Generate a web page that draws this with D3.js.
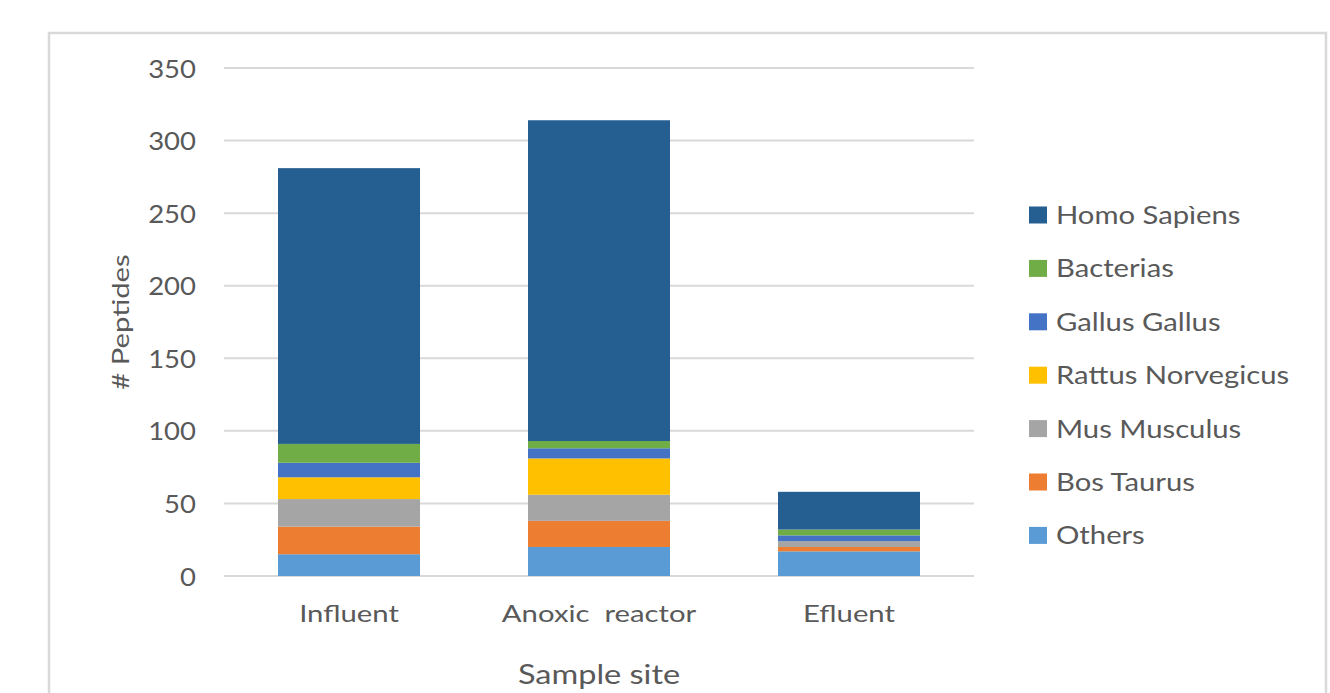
<!DOCTYPE html>
<html>
<head>
<meta charset="utf-8">
<script src="https://cdn.jsdelivr.net/npm/d3@7"></script>
<style>
  html, body { margin: 0; padding: 0; background: #fff; }
  svg { display: block; }
  text { font-family: Lato, "Open Sans", sans-serif; fill: #595959; }
</style>
</head>
<body>
<svg id="chart" width="1330" height="693"></svg>
<script>
// Sample sites along the x axis
const sites = ["Influent", "Anoxic  reactor", "Efluent"];

// Peptide counts per organism, one value per site (stacked bottom to top)
const others     = [15, 20, 17];
const bosTaurus  = [19, 18, 3];
const musMusculus = [19, 18, 4];
const rattusNorvegicus = [15, 25, 0];
const gallusGallus = [10, 7, 4];
const bacterias  = [13, 5, 4];
const homoSapiens = [190, 221, 26];

const seriesNames = ["Others", "Bos Taurus", "Mus Musculus", "Rattus Norvegicus", "Gallus Gallus", "Bacterias", "Homo Sapìens"];
const seriesColors = ["#5b9bd5", "#ed7d31", "#a5a5a5", "#ffc000", "#4472c4", "#70ad47", "#255e91"];
const yTicks = [0, 50, 100, 150, 200, 250, 300, 350];

const seriesValues = [others, bosTaurus, musMusculus, rattusNorvegicus, gallusGallus, bacterias, homoSapiens];

// Build table rows for d3.stack
const rows = sites.map((s, i) => {
  const r = { site: s };
  seriesNames.forEach((n, k) => { r[n] = seriesValues[k][i]; });
  return r;
});

const svg = d3.select("#chart");

// Outer chart frame
svg.append("rect")
  .attr("x", 49).attr("y", 33)
  .attr("width", 1277).attr("height", 700)
  .attr("fill", "none")
  .attr("stroke", "#d9d9d9")
  .attr("stroke-width", 2.5);

const plot = { left: 224, right: 974, top: 68, bottom: 576 };

const x = d3.scaleBand()
  .domain(sites)
  .range([plot.left, plot.right])
  .paddingInner(0.432)
  .paddingOuter(0.216);

const y = d3.scaleLinear()
  .domain([0, 350])
  .range([plot.bottom, plot.top]);

// Horizontal gridlines
svg.append("g")
  .selectAll("line")
  .data(yTicks)
  .join("line")
  .attr("x1", plot.left).attr("x2", plot.right)
  .attr("y1", d => y(d)).attr("y2", d => y(d))
  .attr("stroke", "#d9d9d9")
  .attr("stroke-width", 2);

// Y axis tick labels (slightly widened face)
const yAxis = d3.axisLeft(y).tickValues(yTicks).tickSize(0).tickPadding(0);
const gy = svg.append("g")
  .attr("transform", `translate(${196},0)`)
  .call(yAxis);
gy.select(".domain").remove();
gy.selectAll("text")
  .style("font-size", "25px")
  .attr("fill", "#595959")
  .attr("dy", "0.36em")
  .attr("transform", "scale(1.1,1)");

// Stacked bars
const stack = d3.stack().keys(seriesNames);
const layers = stack(rows);

svg.append("g")
  .selectAll("g")
  .data(layers)
  .join("g")
  .attr("fill", (d, i) => seriesColors[i])
  .selectAll("rect")
  .data(d => d)
  .join("rect")
  .attr("x", d => x(d.data.site))
  .attr("width", x.bandwidth())
  .attr("y", d => y(d[1]))
  .attr("height", d => y(d[0]) - y(d[1]));

// Category labels on the x axis
const xAxis = d3.axisBottom(x).tickSize(0).tickPadding(0);
const gx = svg.append("g")
  .attr("transform", `translate(0,${613})`)
  .call(xAxis);
gx.select(".domain").remove();
gx.selectAll("text")
  .style("font-size", "24px")
  .attr("fill", "#595959")
  .attr("dy", "0.36em")
  .attr("transform", "scale(1.22,1)")
  .style("white-space", "pre")
  .attr("xml:space", "preserve");

// Axis titles
svg.append("g")
  .attr("transform", `translate(${x(sites[1]) + x.bandwidth() / 2}, 675) scale(1.25,1)`)
  .append("text")
  .attr("text-anchor", "middle")
  .attr("dy", "0.36em")
  .style("font-size", "26px")
  .text("Sample site");

svg.append("g")
  .attr("transform", `translate(120, ${322}) rotate(-90) scale(1.22,1)`)
  .append("text")
  .attr("text-anchor", "middle")
  .attr("dy", "0.36em")
  .style("font-size", "24px")
  .text("# Peptides");

// Legend (top entry is the top of the stack)
const legendItems = seriesNames.map((n, i) => ({ name: n, color: seriesColors[i] })).reverse();
const legend = svg.append("g")
  .selectAll("g")
  .data(legendItems)
  .join("g")
  .attr("transform", (d, i) => `translate(1029, ${215 + i * 53.4})`);

legend.append("rect")
  .attr("x", 0).attr("y", -8.5)
  .attr("width", 18).attr("height", 17)
  .attr("fill", d => d.color);

legend.append("g")
  .attr("transform", "translate(27,0) scale(1.17,1)")
  .append("text")
  .attr("dy", "0.36em")
  .style("font-size", "25px")
  .text(d => d.name);
</script>
</body>
</html>
